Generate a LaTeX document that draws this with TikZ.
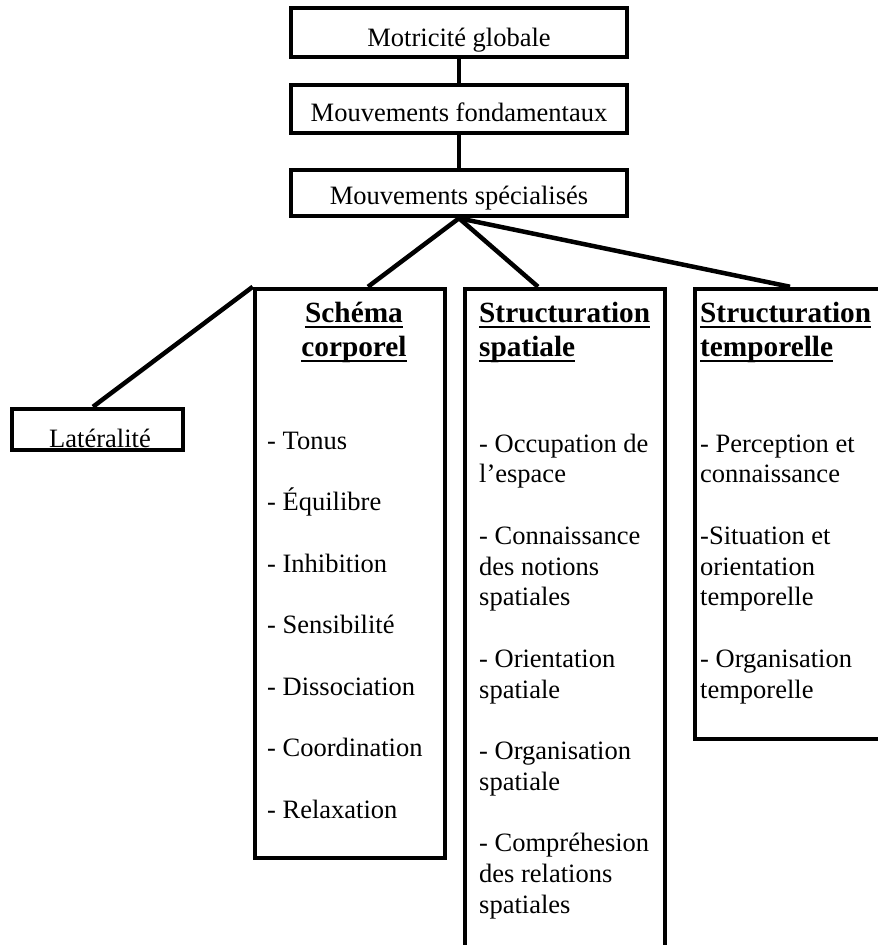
\documentclass[tikz,border=0pt]{standalone}
\usepackage{fontspec}
\setmainfont{Liberation Serif}
\begin{document}
\begin{tikzpicture}[x=1pt,y=-1pt,
  box/.style={draw, line width=4.5pt, inner sep=0pt},
  conn/.style={line width=4.5pt},
  txt/.style={inner sep=0pt, font=\fontsize{26.5}{30}\selectfont},
  hdr/.style={inner sep=0pt, font=\fontsize{29.3}{33}\selectfont\bfseries},
  uline/.style={line width=2.4pt}]
\useasboundingbox (0,0) rectangle (878,945);
\clip (0,0) rectangle (878,945);

% top chain
\node[box, minimum width=336pt, minimum height=49pt] (b1) at (459,32.5) {};
\node[box, minimum width=336pt, minimum height=48pt] (b2) at (459,109) {};
\node[box, minimum width=336pt, minimum height=46pt] (b3) at (459,193) {};
\node[txt, anchor=base] (t1) at (459,46) {Motricité globale};
\node[txt, anchor=base] (t2) at (459,121) {Mouvements fondamentaux};
\node[txt, anchor=base] (t3) at (459,204) {Mouvements spécialisés};

% lower boxes
\node[box, minimum width=171pt, minimum height=41pt] (lat) at (97.5,429.5) {};
\node[box, minimum width=190pt, minimum height=569pt] (schema) at (350,573.5) {};
\node[box, minimum width=200pt, minimum height=671pt] (spatial) at (565,624.5) {};
\node[box, minimum width=195pt, minimum height=450pt] (temp) at (792.5,514) {};
\node[txt, anchor=base] (tlat) at (100,447) {Latéralité};

% connectors
\draw[conn] (b1.south) -- (b2.north);
\draw[conn] (b2.south) -- (b3.north);
\draw[conn] (b3.south) -- ([xshift=18pt]schema.north);
\draw[conn] (b3.south) -- ([xshift=-27pt]spatial.north);
\draw[conn] (b3.south) -- ([xshift=-2.5pt]temp.north);
\draw[conn] (schema.north west) -- ([xshift=-4.5pt]lat.north);

% headers
\node[hdr, anchor=base] (h1) at (354,322) {Schéma};
\node[hdr, anchor=base] (h2) at (354,356) {corporel};
\node[hdr, anchor=base west] (h3) at (479,322) {Structuration};
\node[hdr, anchor=base west] (h4) at (479,356) {spatiale};
\node[hdr, anchor=base west] (h5) at (700,322) {Structuration};
\node[hdr, anchor=base west] (h6) at (700,356) {temporelle};
\foreach \n in {h1,h2,h3,h4,h5,h6}
  \draw[uline] ([yshift=-5pt]\n.base west) -- ([yshift=-5pt]\n.base east);

% schema list
\foreach \t/\y [count=\i] in {{- Tonus}/449, {- Équilibre}/510.5, {- Inhibition}/572,
  {- Sensibilité}/633.5, {- Dissociation}/695, {- Coordination}/756.5, {- Relaxation}/818}
  \node[txt, anchor=base west] (sc\i) at (267,\y) {\t};

% spatial list
\foreach \t/\y [count=\i] in {{- Occupation de}/452, {l’espace}/482.75,
  {- Connaissance}/544.25, {des notions}/575, {spatiales}/605.75,
  {- Orientation}/667.25, {spatiale}/698,
  {- Organisation}/759.5, {spatiale}/790.25,
  {- Compréhesion}/851.75, {des relations}/882.5, {spatiales}/913.25}
  \node[txt, anchor=base west] (sp\i) at (479,\y) {\t};

% temporal list
\foreach \t/\y [count=\i] in {{- Perception et}/452, {connaissance}/482.75,
  {-Situation et}/544.25, {orientation}/575, {temporelle}/605.75,
  {- Organisation}/667.25, {temporelle}/698}
  \node[txt, anchor=base west] (tp\i) at (700,\y) {\t};
\end{tikzpicture}
\end{document}
